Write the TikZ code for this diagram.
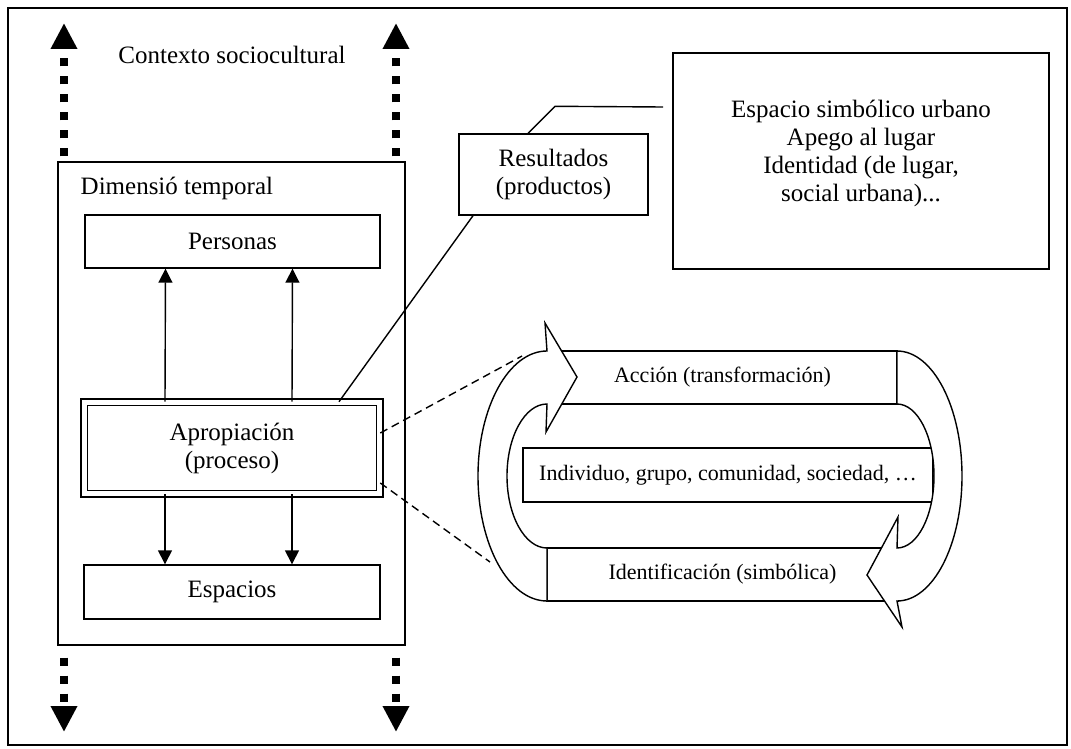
\documentclass[tikz,border=0pt]{standalone}
\usepackage{fontspec}
\setmainfont{Liberation Serif}
\usetikzlibrary{arrows.meta, positioning, calc}

\begin{document}
\begin{tikzpicture}[x=0.5pt, y=-0.5pt, line width=0.7pt,
  font=\fontsize{12.5pt}{14pt}\selectfont,
  box/.style={draw, fill=white, inner sep=0pt, align=center},
  cyc/.style={box, font=\fontsize{11pt}{13pt}\selectfont},
  arr/.style={-{Triangle[width=7pt,length=7pt]}},
  dotarr/.style={line width=4pt, dash pattern=on 4pt off 5pt, -{Triangle[width=12.5pt,length=13pt]}},
  link/.style={dash pattern=on 4pt off 2.5pt}]
\useasboundingbox (0,0) rectangle (1071,749);
\draw (8,8) rectangle (1067,745);

% Contexto y dimension temporal
\node (ctx) at (232,55) {Contexto sociocultural};
\node[box, minimum width=173.5pt, minimum height=241.5pt] (dim) at (231.5,403.5) {};
\node[anchor=west, inner sep=0pt] (dimlab) at (80,188) {Dimensió temporal};

\node[box, minimum width=147.5pt, minimum height=26.5pt] (pers) at (232.5,241.5) {Personas};
\node[box, double, double distance=2.6pt, minimum width=147.6pt, minimum height=45.6pt] (aprop) at (232,448) {Apropiación\\(proceso)};
\node[box, minimum width=148pt, minimum height=27pt] (esp) at (232,592) {Espacios};

\foreach \dx in {-33.5,30} {
  \draw[arr] ([xshift=\dx pt]aprop.north) -- ([xshift=\dx pt]pers.south);
  \draw[arr] ([xshift=\dx pt]aprop.south) -- ([xshift=\dx pt]esp.north);
}

% flechas punteadas
\coordinate (upL) at (64,23);
\coordinate (upR) at (396,23);
\coordinate (dnL) at (64,732);
\coordinate (dnR) at (396,732);
\draw[dotarr, shorten <=2.5pt] (dim.north -| upL) -- (upL);
\draw[dotarr, shorten <=2.5pt] (dim.north -| upR) -- (upR);
\draw[dotarr, shorten <=6pt] (dim.south -| dnL) -- (dnL);
\draw[dotarr, shorten <=6pt] (dim.south -| dnR) -- (dnR);

% Resultados
\node[box, minimum width=94.5pt, minimum height=40.5pt] (res) at (553.5,174.5) {Resultados\\(productos)};
\node[box, minimum width=188pt, minimum height=108pt] (esim) at (861,161) {};
\node[align=center] (esimtxt) at (861,153) {Espacio simbólico urbano\\Apego al lugar\\Identidad (de lugar,\\social urbana)...};
\coordinate (lead) at (663,107);
\draw ([xshift=-12.75pt]res.north) -- ++(27,-27) -- (lead);
\draw ([xshift=-40.25pt]res.south) -- ([xshift=53.5pt]aprop.north);

% ciclo
\node[cyc, minimum width=174.5pt, minimum height=26.5pt] (acc) at (722.5,377.5) {Acción (transformación)};
\node[cyc, minimum width=175.5pt, minimum height=26.5pt] (ident) at (722.5,574.5) {Identificación (simbólica)};
\node[cyc, minimum width=205pt, minimum height=27pt] (indiv) at (728,475) {Individuo, grupo, comunidad, sociedad, …};
\draw[fill=white] (547,601) arc[start angle=270, end angle=90, x radius=34.5pt, y radius=62.5pt]
  -- (545,323) -- (577,377) -- (546,432) -- (547,404)
  arc[start angle=90, end angle=270, x radius=20pt, y radius=36pt] -- cycle;
\draw[fill=white] (897,351) arc[start angle=90, end angle=-90, x radius=32.5pt, y radius=62.5pt]
  -- (902,627) -- (867,575) -- (898,517) -- (897,548)
  arc[start angle=-90, end angle=90, x radius=18.5pt, y radius=36pt] -- cycle;

% enlaces
\coordinate (dashA) at (522,356);
\coordinate (dashB) at (490,562);
\draw[link] ([yshift=7.5pt]aprop.east) -- (dashA);
\draw[link] ([yshift=-17.5pt]aprop.east) -- (dashB);
\end{tikzpicture}
\end{document}
